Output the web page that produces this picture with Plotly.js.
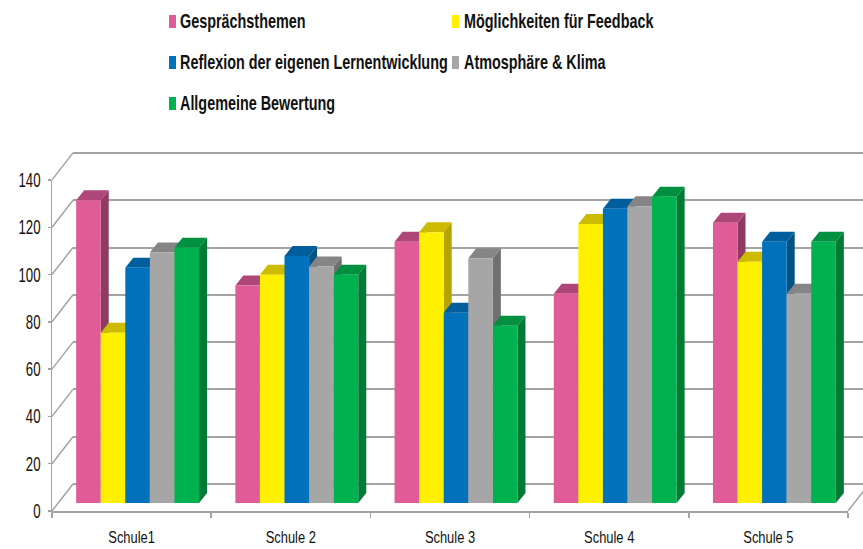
<!DOCTYPE html>
<html>
<head>
<meta charset="utf-8">
<script src="https://cdn.plot.ly/plotly-3.0.1.min.js"></script>
<style>html,body{margin:0;padding:0;background:#fff;overflow:hidden}#chart{width:863px;height:549px}</style>
</head>
<body>
<div id="chart"></div>
<script>
const categories = ["Schule1", "Schule 2", "Schule 3", "Schule 4", "Schule 5"];
const seriesNames = ["Gesprächsthemen", "Möglichkeiten für Feedback", "Reflexion der eigenen Lernentwicklung", "Atmosphäre & Klima", "Allgemeine Bewertung"];
const gespraechsthemen = [128, 92, 110.5, 88.5, 118.5];
const feedback = [72, 96.5, 114.5, 118, 102];
const reflexion = [99.5, 104.5, 80.5, 124.5, 110.5];
const atmosphaere = [106, 100, 103.5, 125.5, 88.5];
const bewertung = [108, 96.5, 75, 129.5, 110.5];
const yTicks = [0, 20, 40, 60, 80, 100, 120, 140];

const seriesValues = [gespraechsthemen, feedback, reflexion, atmosphaere, bewertung];
const frontColors = ["#E05C97", "#FFF000", "#0072BC", "#A6A6A6", "#00B14F"];
const topColors = ["#AE4678", "#CDBB00", "#005E9C", "#858585", "#00903F"];
const sideColors = ["#8F3A63", "#B5A400", "#005285", "#707070", "#007A35"];

const W = 863, H = 549;
const fx = p => p / W, fy = p => 1 - p / H;
const pxPerCat = 159.2, pxPerUnit = 47.3 / 20;
const grey = "#A3A3A3";
const sans = "'Liberation Sans',Arial,sans-serif";
const bargap = 0.228;
const barW = (1 - bargap) / seriesNames.length;
const dx = 8 / pxPerCat, dy = 10 / pxPerUnit;

const traces = seriesNames.map((name, j) => ({
  type: "bar", name: name, x: categories, y: seriesValues[j],
  xaxis: "x3", yaxis: "y3",
  marker: {color: frontColors[j], line: {width: 0}}
}));
traces.push({type: "scatter", mode: "none", x: categories, y: categories.map(() => 0), xaxis: "x2", yaxis: "y2", hoverinfo: "skip"});
traces.push({type: "scatter", mode: "none", x: [0], y: [0], xaxis: "x", yaxis: "y", hoverinfo: "skip"});
traces.push({type: "scatter", mode: "none", x: [0], y: [0], xaxis: "x4", yaxis: "y4", hoverinfo: "skip"});

const shapes = [];
seriesValues.forEach((vals, j) => {
  vals.forEach((v, i) => {
    const l = i - (1 - bargap) / 2 + j * barW, r = l + barW;
    shapes.push({type: "path", xref: "x3", yref: "y3", layer: "below", line: {width: 0}, fillcolor: sideColors[j],
      path: `M${r},0 L${r + dx},${dy} L${r + dx},${v + dy} L${r},${v} Z`});
    shapes.push({type: "path", xref: "x3", yref: "y3", layer: "below", line: {width: 0}, fillcolor: topColors[j],
      path: `M${l},${v} L${l + dx},${v + dy} L${r + dx},${v + dy} L${r},${v} Z`});
  });
});
const wallDx = 21 / pxPerCat, wallDy = 27 / pxPerUnit;
yTicks.forEach(v => {
  shapes.push({type: "line", xref: "x4", yref: "y4", layer: "below", x0: 0, y0: v, x1: wallDx, y1: v + wallDy, line: {color: grey, width: 1.5}});
});
shapes.push({type: "line", xref: "x4", yref: "y4", layer: "below", x0: 5, y0: 0, x1: 5 + wallDx, y1: wallDy, line: {color: grey, width: 1.5}});

const legendCols = [[179, 169], [463, 452]];
const legendSlots = [[0, 21], [1, 21], [0, 62], [1, 62], [0, 103]];
const annotations = [];
seriesNames.forEach((name, j) => {
  const [c, y] = legendSlots[j];
  annotations.push({xref: "paper", yref: "paper", x: fx(legendCols[c][0]), y: fy(y), xanchor: "left", yanchor: "middle", align: "left", showarrow: false,
    text: name, font: {family: sans, size: 20, weight: 700, color: "#111"}, borderpad: 0});
  shapes.push({type: "rect", xref: "paper", yref: "paper", x0: fx(legendCols[c][1]), x1: fx(legendCols[c][1] + 7), y0: fy(y - 6), y1: fy(y + 7),
    line: {width: 0}, fillcolor: frontColors[j]});
});

const hidden = {visible: false, fixedrange: true};
const wallPad = 2 * pxPerUnit;
const layout = {
  width: W, height: H, margin: {l: 0, r: 0, t: 0, b: 0, pad: 0, autoexpand: false},
  paper_bgcolor: "#fff", plot_bgcolor: "rgba(0,0,0,0)", showlegend: false, bargap: bargap, bargroupgap: 0, barmode: "group",
  xaxis: Object.assign({}, hidden, {domain: [fx(73), 1], range: [0, (W - 73) / pxPerCat]}),
  yaxis: {domain: [fy(484 + wallPad), fy(153 - wallPad)], range: [-2, 142], tickmode: "array", tickvals: yTicks, showgrid: true, gridcolor: grey, gridwidth: 2,
    zeroline: false, showline: false, ticks: "", showticklabels: false, anchor: "x", fixedrange: true},
  xaxis2: {domain: [fx(52), fx(848)], anchor: "y2", type: "category", categoryorder: "array", categoryarray: categories, range: [-0.5, 4.5],
    tickson: "boundaries", ticks: "outside", ticklen: 5, tickwidth: 1.5, tickcolor: grey, showline: true, linecolor: grey, linewidth: 2, showgrid: false, zeroline: false,
    ticklabelstandoff: 10, tickfont: {family: sans, size: 17, color: "#111"}, fixedrange: true},
  yaxis2: {domain: [fy(511), fy(180)], anchor: "x2", range: [0, 140], tickmode: "array", tickvals: yTicks, ticks: "outside", ticklen: 3, tickwidth: 1.5, tickcolor: grey,
    showline: true, linecolor: grey, linewidth: 1.5, showgrid: false, zeroline: false, ticklabelstandoff: 3, tickfont: {family: sans, size: 20, color: "#111"}, fixedrange: true},
  xaxis3: Object.assign({}, hidden, {domain: [fx(58), fx(854)], anchor: "y3", type: "category", categoryorder: "array", categoryarray: categories, range: [-0.5, 4.5]}),
  yaxis3: Object.assign({}, hidden, {domain: [fy(503), fy(172)], anchor: "x3", range: [0, 140]}),
  xaxis4: Object.assign({}, hidden, {domain: [fx(52), 1], anchor: "y4", range: [0, (W - 52) / pxPerCat]}),
  yaxis4: Object.assign({}, hidden, {domain: [fy(511), 1], anchor: "x4", range: [0, 511 / pxPerUnit]}),
  shapes: shapes, annotations: annotations
};
// the reference's lettering is horizontally condensed: scale each text about its own anchor
function squeeze(sel, factor) {
  document.querySelectorAll(sel).forEach(t => {
    const x = parseFloat(t.getAttribute("x")) || 0;
    const old = t.getAttribute("transform") || "";
    t.setAttribute("transform", `${old} translate(${x},0) scale(${factor},1) translate(${-x},0)`);
  });
}
Plotly.newPlot("chart", traces, layout, {displayModeBar: false, staticPlot: true}).then(() => {
  squeeze(".annotation-text", 0.72);
  squeeze(".x2tick text", 0.76);
  squeeze(".y2tick text", 0.66);
});
</script>
</body>
</html>
